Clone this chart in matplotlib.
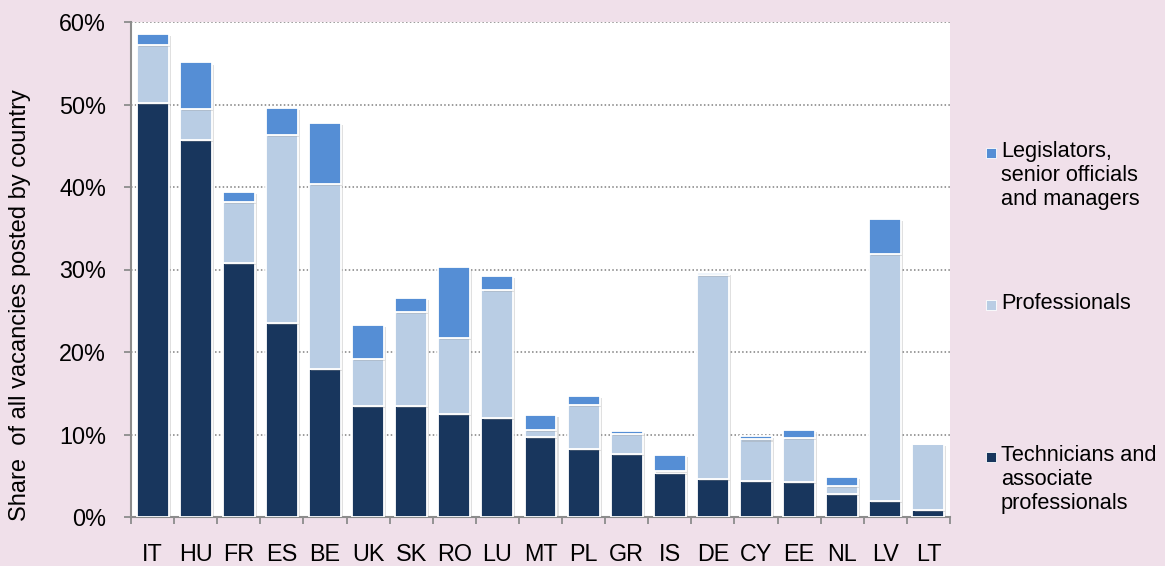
import numpy as np
import matplotlib.pyplot as plt
import matplotlib.patheffects as pe
from matplotlib.patches import Rectangle
from matplotlib.ticker import PercentFormatter

plt.rcParams['font.family'] = ['Liberation Sans', 'DejaVu Sans']

# Share of vacancies by occupation group, in percent
countries = ['IT', 'HU', 'FR', 'ES', 'BE', 'UK', 'SK', 'RO', 'LU', 'MT',
             'PL', 'GR', 'IS', 'DE', 'CY', 'EE', 'NL', 'LV', 'LT']
technicians = [50.2, 45.7, 30.8, 23.5, 17.9, 13.5, 13.5, 12.5, 12.0, 9.7,
               8.3, 7.6, 5.3, 4.6, 4.4, 4.2, 2.8, 1.9, 0.9]
professionals = [7.0, 3.8, 7.4, 22.8, 22.5, 5.7, 11.4, 9.2, 15.5, 0.9,
                 5.3, 2.5, 0.3, 24.7, 5.0, 5.4, 1.0, 30.0, 8.0]
legislators = [1.4, 5.6, 1.2, 3.3, 7.4, 4.1, 1.6, 8.6, 1.7, 1.8,
               1.1, 0.3, 1.9, 0.3, 0.4, 0.9, 1.0, 4.2, 0.0]

series_labels = ['Legislators,\nsenior officials\nand managers',
                 'Professionals',
                 'Technicians and\nassociate\nprofessionals']
c_dark = '#18365d'
c_light = '#b9cde4'
c_mid = '#558ed5'
bg = '#f0e0ea'

fig = plt.figure(figsize=(11.65, 5.66), dpi=100, facecolor=bg)
ax = fig.add_axes([131 / 1165, 1 - 517 / 566, 819 / 1165, 495 / 566])
ax.set_facecolor('white')

x = np.arange(len(countries))
shadow = [pe.SimplePatchShadow(offset=(1.5, -1.5), shadow_rgbFace='#9a9a9a', alpha=0.3), pe.Normal()]
kw = dict(width=0.74, edgecolor='white', linewidth=1.3, zorder=3)

tech = np.array(technicians)
prof = np.array(professionals)
leg = np.array(legislators)
b1 = ax.bar(x, tech, color=c_dark, **kw)
b2 = ax.bar(x, prof, bottom=tech, color=c_light, **kw)
b3 = ax.bar(x, leg, bottom=tech + prof, color=c_mid, **kw)
for bars in (b1, b2, b3):
    for p in bars:
        p.set_path_effects(shadow)

ax.set_xlim(-0.5, len(countries) - 0.5)
ax.set_ylim(0, 60)
ax.set_yticks(np.arange(0, 61, 10))
ax.yaxis.set_major_formatter(PercentFormatter(decimals=0))
ax.grid(axis='y', color='#808080', linestyle=(0, (1, 1.5)), linewidth=1.1, zorder=1)
ax.set_axisbelow(True)

ax.set_xticks(x)
ax.set_xticklabels(countries)
ax.set_xticks(np.arange(-0.5, len(countries)), minor=True)
ax.tick_params(axis='x', which='major', length=0, pad=19, labelsize=16.8)
ax.tick_params(axis='x', which='minor', length=5, width=1.3, color='#8c8c8c', direction='out')
ax.tick_params(axis='y', length=5, width=1.3, color='#8c8c8c', pad=13, labelsize=16.8)

for s in ('top', 'right'):
    ax.spines[s].set_visible(False)
for s in ('left', 'bottom'):
    ax.spines[s].set_color('#8c8c8c')
    ax.spines[s].set_linewidth(1.5)

fig.text(20 / 1165, 1 - 305 / 566, 'Share  of all vacancies posted by country',
         rotation=90, ha='center', va='center', fontsize=17)

# legend drawn by hand on the right
legend_y = [153, 305, 457]
legend_c = [c_mid, c_light, c_dark]
for yy, col, lab in zip(legend_y, legend_c, series_labels):
    fig.patches.append(Rectangle((986 / 1165, 1 - (yy + 5) / 566), 10 / 1165, 10 / 566,
                                 transform=fig.transFigure, facecolor=col,
                                 edgecolor='white', linewidth=0.6))
    fig.text(1001 / 1165, 1 - (yy - 12) / 566, lab, ha='left', va='top',
             fontsize=15.7, linespacing=1.2)

plt.savefig('out.png', dpi=100, facecolor=bg)
